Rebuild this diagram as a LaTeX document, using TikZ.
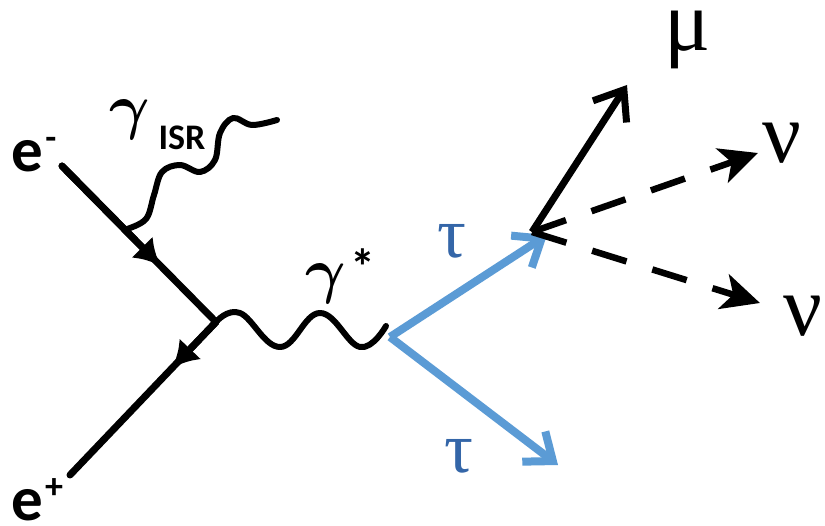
\documentclass[tikz,border=0pt]{standalone}
\usepackage{fix-cm}
\usepackage{fontspec}
\usetikzlibrary{arrows.meta,calc}
\newfontfamily\lblsans{Carlito}
\newfontfamily\grk{Liberation Serif}
\definecolor{taublue}{HTML}{5B9BD5}
\definecolor{taulbl}{HTML}{3466A8}
\begin{document}
\begin{tikzpicture}[x=1pt,y=-1pt,
  fermion/.style={line width=7pt, line cap=round},
  photon/.style={line width=6pt, line cap=round, line join=round},
  taupath/.style={line width=8pt, taublue, -{Straight Barb[length=24pt,width=38pt]}},
  mupath/.style={line width=7pt, -{Straight Barb[length=26pt,width=40pt]}},
  nupath/.style={line width=6.5pt, dash pattern=on 36pt off 27pt, -{Stealth[length=38pt,width=36pt,inset=10pt]}},
  midtip/.style={-{Latex[length=26pt,width=30pt]}},
  elbl/.style={font=\lblsans\bfseries\fontsize{63}{63}\selectfont, inner sep=0pt, anchor=base, text height=0.45em, text depth=0pt},
  suplbl/.style={font=\lblsans\bfseries\fontsize{36}{36}\selectfont, inner sep=0pt, anchor=base},
  gamlbl/.style={font=\fontsize{62}{62}\selectfont\boldmath, inner sep=0pt, anchor=base},
  grklbl/.style={font=\grk\fontsize{86}{86}\selectfont, inner sep=0pt, anchor=base, text height=0.47em, text depth=0.2em},
  taulblst/.style={font=\grk\fontsize{72}{72}\selectfont, text=taulbl, inner sep=0pt, anchor=base}]
\useasboundingbox (0,0) rectangle (825,526);

% vertices
\coordinate (em) at (62,166);
\coordinate (v) at (216,322);
\coordinate (ep) at (70,475);
\coordinate (isr) at (127,229);
\coordinate (isrend) at (277,120);
\coordinate (gs) at (386,326);
\coordinate (tv) at (390,337);
\coordinate (tup) at (547,235);
\coordinate (tdn) at (558,465);
\coordinate (dv) at (532,232);
\coordinate (mu) at (627,85);
\coordinate (nu1) at (758,153);
\coordinate (nu2) at (760,303);

% electron lines
\draw[fermion] (em) -- (v);
\draw[fermion, midtip] (em) -- ($(em)!0.64!(v)$);
\draw[fermion] (v) -- (ep);
\draw[fermion, midtip] (v) -- ($(v)!0.30!(ep)$);

% ISR photon
\draw[photon] plot[smooth, tension=0.6] coordinates {(isr) (146,219) (154,195) (162,172) (180,165) (200,172) (215,160) (220,133) (233,118) (252,125) (isrend)};

% virtual photon
\draw[photon] plot[smooth, tension=0.7] coordinates {(v) (240,313) (280,347) (320,313) (360,347) (gs)};

% taus
\draw[taupath] (tv) -- (tup);
\draw[taupath] (tv) -- (tdn);

% decay products
\draw[mupath] (dv) -- (mu);
\draw[nupath] (dv) -- (nu1);
\draw[nupath] (dv) -- (nu2);

% labels
\node[elbl] (lem) at (27,172) {e};
\node[suplbl] (lems) at (51,150) {-};
\node[elbl] (lep) at (27,520) {e};
\node[suplbl] (leps) at (54,499) {+};
\node[gamlbl] (lgi) at (130,128) {$\gamma$};
\node[suplbl] (lisr) at (182,150) {ISR};
\node[gamlbl] (lgs) at (326,292) {$\gamma$};
\node[suplbl, font=\lblsans\bfseries\fontsize{50}{50}\selectfont] (lstar) at (363,285) {*};
\node[taulblst] (ltau1) at (452,258) {τ};
\node[taulblst] (ltau2) at (459,472) {τ};
\node[grklbl] (lmu) at (688,51) {μ};
\node[grklbl] (lnu1) at (782,163) {ν};
\node[grklbl] (lnu2) at (803,336) {ν};
\end{tikzpicture}
\end{document}
